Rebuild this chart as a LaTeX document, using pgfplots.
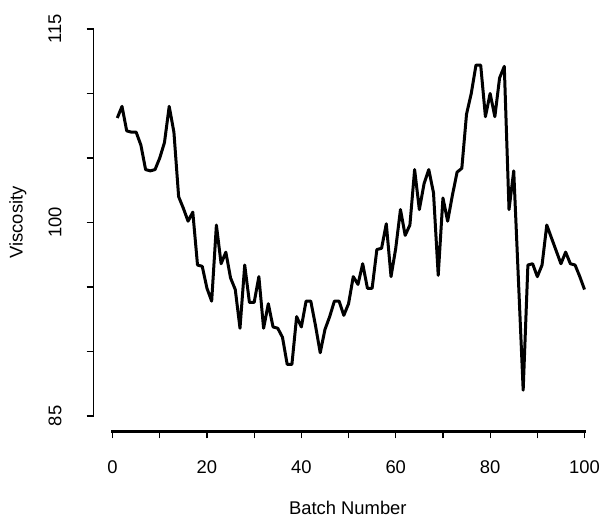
\documentclass[border=0pt]{standalone}
\usepackage{fontspec}
\setmainfont{Liberation Sans}
\usepackage{pgfplots}
\pgfplotsset{compat=1.18}

\begin{document}
\fontsize{9.2}{11}\selectfont
\begin{tikzpicture}
\begin{axis}[
  scale only axis, width=254.2pt, height=209pt,
  xmin=-4, xmax=103.7, ymin=83.8, ymax=116.2,
  clip=false,
  axis x line*=bottom, axis y line*=left,
  axis line style={draw=none},
  tick align=outside, major tick length=3.5pt,
  tick style={black, line width=0.6pt},
  xtick={0,10,...,100}, xticklabels={0,,20,,40,,60,,80,,100},
  ytick={85,90,...,115}, yticklabels={85,,,100,,,115},
  xticklabel style={anchor=center, yshift=-14.5pt},
  yticklabel style={anchor=center, xshift=-15.85pt, rotate=90},
  /pgf/number format/assume math mode=true,
  xlabel={Batch Number}, ylabel={Viscosity},
  every axis x label/.style={at={(axis description cs:0.5,-0.183)}, anchor=center},
  every axis y label/.style={at={(axis description cs:-0.149,0.5)}, rotate=90, anchor=center},
]
\addplot[black, line width=1.5pt, line join=round, mark=none] coordinates {
  (1,108.1) (2,109.0) (3,107.1) (4,107.0) (5,107.0) (6,106.0) (7,104.1) (8,104.0) (9,104.1) (10,105.0)
  (11,106.2) (12,109.0) (13,107.0) (14,102.0) (15,101.1) (16,100.1) (17,100.8) (18,96.7) (19,96.6) (20,94.9)
  (21,93.9) (22,99.8) (23,96.8) (24,97.7) (25,95.7) (26,94.8) (27,91.8) (28,96.7) (29,93.8) (30,93.8)
  (31,95.8) (32,91.8) (33,93.7) (34,91.9) (35,91.8) (36,91.1) (37,89.0) (38,89.0) (39,92.7) (40,91.9)
  (41,93.9) (42,93.9) (43,92.0) (44,89.9) (45,91.7) (46,92.7) (47,93.9) (48,93.9) (49,92.8) (50,93.7)
  (51,95.8) (52,95.2) (53,96.8) (54,94.9) (55,94.9) (56,97.9) (57,98.0) (58,99.9) (59,95.8) (60,98.0)
  (61,101.0) (62,99.0) (63,99.8) (64,104.1) (65,101.0) (66,103.0) (67,104.1) (68,102.3) (69,95.9) (70,101.9)
  (71,100.1) (72,102.1) (73,103.9) (74,104.2) (75,108.4) (76,110.0) (77,112.2) (78,112.2) (79,108.2) (80,110.0)
  (81,108.2) (82,111.2) (83,112.1) (84,101.0) (85,104.0) (86,95.5) (87,87.0) (88,96.7) (89,96.8) (90,95.8)
  (91,96.7) (92,99.8) (93,98.8) (94,97.8) (95,96.8) (96,97.7) (97,96.8) (98,96.7) (99,95.8) (100,94.8)
};
\coordinate (ll) at (rel axis cs:0,0);
\coordinate (ur) at (rel axis cs:1,1);
\coordinate (x0) at (axis cs:0,100);
\coordinate (x100) at (axis cs:100,100);
\coordinate (y85) at (axis cs:0,85);
\coordinate (y115) at (axis cs:0,115);
\end{axis}
% R-style axis lines spanning only the tick range
\draw[black, line width=1.1pt, line cap=rect] (x0 |- ll) -- (x100 |- ll);
\draw[black, line width=0.8pt, line cap=rect] (ll |- y85) -- (ll |- y115);
\pgfresetboundingbox
\path ([xshift=-46.85pt,yshift=-42.25pt]ll) rectangle ([yshift=6.75pt]ur);
\end{tikzpicture}
\end{document}
